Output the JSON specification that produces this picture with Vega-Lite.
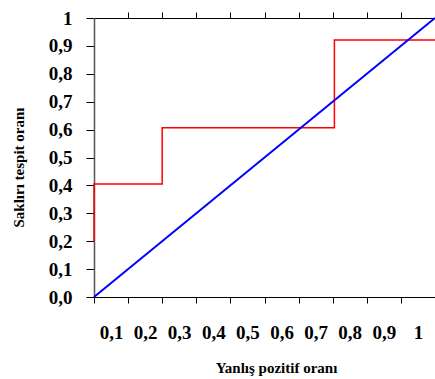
{
  "$schema": "https://vega.github.io/schema/vega-lite/v6.json",
  "width": 341,
  "height": 279,
  "autosize": "none",
  "padding": {"left": 94, "top": 18, "right": 0, "bottom": 82},
  "background": "white",
  "config": {
    "view": {"stroke": null},
    "font": "Liberation Serif",
    "axis": {"grid": false}
  },
  "data": {
    "values": [
      {"series": "roc", "i": 0, "fpr": 0, "tpr": 0.2},
      {"series": "roc", "i": 1, "fpr": 0, "tpr": 0.405},
      {"series": "roc", "i": 2, "fpr": 0.2, "tpr": 0.405},
      {"series": "roc", "i": 3, "fpr": 0.2, "tpr": 0.607},
      {"series": "roc", "i": 4, "fpr": 0.705, "tpr": 0.607},
      {"series": "roc", "i": 5, "fpr": 0.705, "tpr": 0.921},
      {"series": "roc", "i": 6, "fpr": 1, "tpr": 0.921},
      {"series": "diag", "i": 0, "fpr": 0, "tpr": 0},
      {"series": "diag", "i": 1, "fpr": 1, "tpr": 1}
    ]
  },
  "resolve": {"axis": {"x": "independent", "y": "independent"}},
  "layer": [
    {
      "mark": {"type": "line", "clip": false},
      "encoding": {
        "x": {
          "field": "fpr", "type": "quantitative",
          "scale": {"domain": [0, 1], "nice": false, "zero": false},
          "axis": {
            "orient": "bottom",
            "values": [0, 0.1, 0.2, 0.3, 0.4, 0.5, 0.6, 0.7, 0.8, 0.9],
            "labelExpr": "datum.value > 0.85 ? '1' : replace(format(datum.value + 0.1, '.1f'), '.', ',')",
            "labelOffset": 17,
            "labelFlush": false,
            "labelFont": "Liberation Serif",
            "labelFontWeight": "bold",
            "labelFontSize": 19,
            "labelColor": "#000",
            "labelPadding": 20,
            "tickSize": 6,
            "tickColor": "#000",
            "domainColor": "#000",
            "domainWidth": 1,
            "title": "Yanlış pozitif oranı",
            "titleFont": "Liberation Serif",
            "titleFontSize": 15,
            "titleFontWeight": "bold",
            "titleColor": "#000",
            "titleX": 182,
            "titleY": 70,
            "titleBaseline": "middle"
          }
        },
        "y": {
          "field": "tpr", "type": "quantitative",
          "scale": {"domain": [0, 1], "nice": false, "zero": false},
          "axis": {
            "orient": "left",
            "values": [0, 0.1, 0.2, 0.3, 0.4, 0.5, 0.6, 0.7, 0.8, 0.9, 1],
            "labelExpr": "datum.value > 0.95 ? '1' : replace(format(datum.value, '.1f'), '.', ',')",
            "labelFont": "Liberation Serif",
            "labelFontWeight": "bold",
            "labelFontSize": 19,
            "labelColor": "#000",
            "labelPadding": 14,
            "labelFlush": false,
            "tickSize": 8,
            "tickColor": "#000",
            "domainColor": "#555",
            "domainWidth": 1.5,
            "title": "Saklırı tespit oranı",
            "titleFont": "Liberation Serif",
            "titleFontSize": 15,
            "titleFontWeight": "bold",
            "titleColor": "#000",
            "titleX": -76,
            "titleY": 149,
            "titleAngle": -90,
            "titleBaseline": "middle",
            "titleAlign": "center"
          }
        },
        "order": {"field": "i", "type": "quantitative"},
        "color": {
          "field": "series", "type": "nominal",
          "scale": {"domain": ["roc", "diag"], "range": ["#ff0000", "#0000ff"]},
          "legend": null
        },
        "strokeWidth": {
          "field": "series", "type": "nominal",
          "scale": {"domain": ["roc", "diag"], "range": [1.5, 2]},
          "legend": null
        }
      }
    },
    {
      "mark": {"type": "point", "opacity": 0},
      "encoding": {
        "x": {
          "field": "fpr", "type": "quantitative",
          "scale": {"domain": [0, 1], "nice": false, "zero": false},
          "axis": {
            "orient": "top",
            "values": [0.1, 0.2, 0.3, 0.4, 0.5, 0.6, 0.7, 0.8, 0.9],
            "labels": false,
            "tickSize": 6,
            "tickColor": "#000",
            "domainColor": "#000",
            "domainWidth": 1,
            "title": null
          }
        }
      }
    }
  ]
}
